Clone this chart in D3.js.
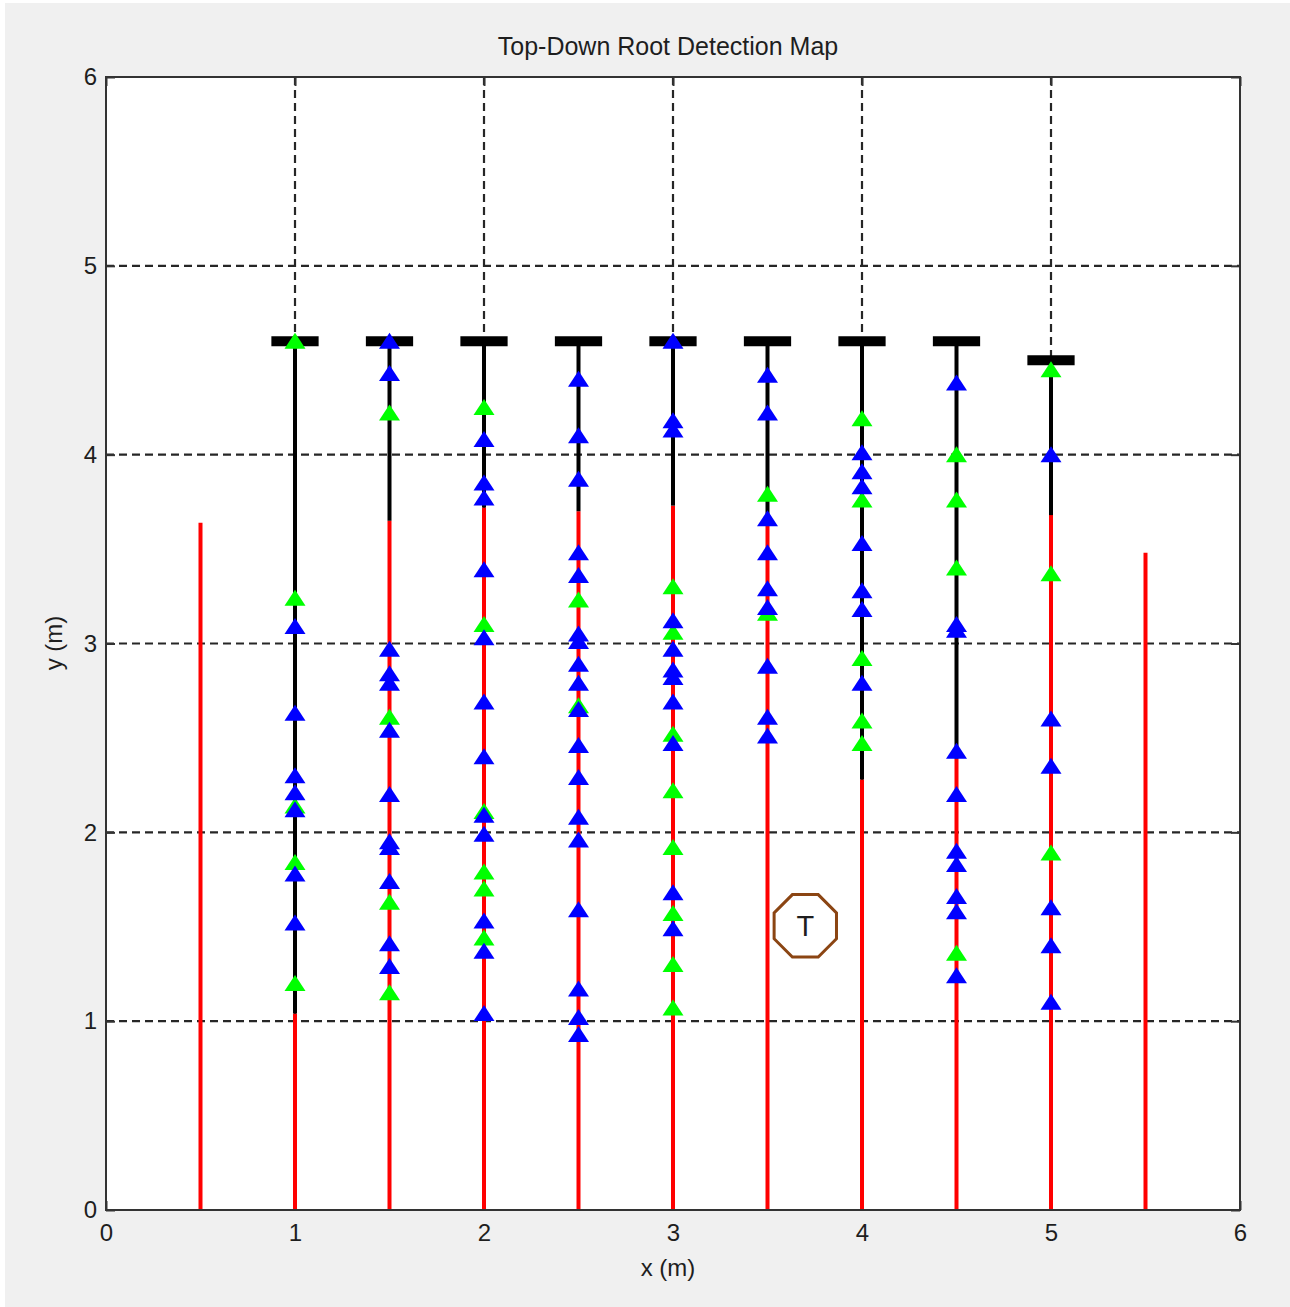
<!DOCTYPE html>
<html>
<head>
<meta charset="utf-8">
<script src="https://cdn.jsdelivr.net/npm/d3@7"></script>
<style>
  html, body { margin: 0; padding: 0; background: #ffffff; }
  text { font-family: "Liberation Sans", Arial, sans-serif; fill: #1e1e1e; }
</style>
</head>
<body>
<div id="container"></div>
<script>
// scan lines (x position in m), top bar height, and where the red (detected) part ends
var lineX   = [1, 1.5, 2, 2.5, 3, 3.5, 4, 4.5, 5];
var barY    = [4.6, 4.6, 4.6, 4.6, 4.6, 4.6, 4.6, 4.6, 4.5];
var redTop  = [1.04, 3.65, 3.72, 3.70, 3.73, 3.63, 2.28, 2.39, 3.68];

// the two outer red lines (no scan bar)
var edgeX   = [0.5, 5.5];
var edgeTop = [3.64, 3.48];

// detections along each scan line (y in m)
var blueY = [
  [3.09, 2.63, 2.30, 2.21, 2.12, 1.78, 1.52],
  [4.60, 4.43, 2.97, 2.84, 2.79, 2.54, 2.20, 1.95, 1.92, 1.74, 1.41, 1.29],
  [4.08, 3.85, 3.77, 3.39, 3.03, 2.69, 2.40, 2.09, 1.99, 1.53, 1.37, 1.04],
  [4.40, 4.10, 3.87, 3.48, 3.36, 3.05, 3.01, 2.89, 2.79, 2.65, 2.46, 2.29, 2.08, 1.96, 1.59, 1.17, 1.02, 0.93],
  [4.60, 4.18, 4.13, 3.12, 2.97, 2.86, 2.82, 2.69, 2.47, 1.68, 1.49],
  [4.42, 4.22, 3.66, 3.48, 3.29, 3.19, 2.88, 2.61, 2.51],
  [4.01, 3.91, 3.83, 3.53, 3.28, 3.18, 2.79],
  [4.38, 3.10, 3.07, 2.43, 2.20, 1.90, 1.83, 1.66, 1.58, 1.24],
  [4.00, 2.60, 2.35, 1.60, 1.40, 1.10]
];
var greenY = [
  [4.60, 3.24, 2.14, 1.84, 1.20],
  [4.22, 2.61, 1.63, 1.15],
  [4.25, 3.10, 2.11, 1.79, 1.70, 1.44],
  [3.23, 2.67],
  [3.30, 3.06, 2.52, 2.22, 1.92, 1.57, 1.30, 1.07],
  [3.79, 3.16],
  [4.19, 3.76, 2.92, 2.59, 2.47],
  [4.00, 3.76, 3.40, 1.36],
  [4.45, 3.37, 1.89]
];

// tree
var treeX = [3.7], treeY = [1.505], treeLabel = ["T"];

var ticks = [0, 1, 2, 3, 4, 5, 6];

var W = 1290, H = 1307;
var margin = {top: 77, left: 106},
    width = 1240 - margin.left,
    height = 1210 - margin.top;

var svg = d3.select("#container")
  .append("svg")
    .attr("width", W)
    .attr("height", H);

svg.append("rect")
  .attr("x", 5).attr("y", 3)
  .attr("width", W - 5).attr("height", H - 3)
  .attr("fill", "#f0f0f0");

var g = svg.append("g")
  .attr("transform", "translate(" + margin.left + "," + margin.top + ")");

var x = d3.scaleLinear().domain([0, 6]).range([0, width]);
var y = d3.scaleLinear().domain([0, 6]).range([height, 0]);

g.append("rect")
  .attr("width", width).attr("height", height)
  .attr("fill", "#fff");

// dashed grid
g.selectAll(".gx").data(ticks.slice(1, -1)).enter().append("line")
  .attr("x1", function(d) { return x(d); }).attr("x2", function(d) { return x(d); })
  .attr("y1", 0).attr("y2", height)
  .attr("stroke", "#262626").attr("stroke-width", 2.2).attr("stroke-dasharray", "8,5");
g.selectAll(".gy").data(ticks.slice(1, -1)).enter().append("line")
  .attr("y1", function(d) { return y(d); }).attr("y2", function(d) { return y(d); })
  .attr("x1", 0).attr("x2", width)
  .attr("stroke", "#262626").attr("stroke-width", 2.2).attr("stroke-dasharray", "8,5");

// axes (ticks pointing inside, MATLAB style)
var xAxis = g.append("g").attr("transform", "translate(0," + height + ")")
  .call(d3.axisBottom(x).tickValues(ticks).tickSize(-9).tickPadding(14).tickFormat(d3.format("d")));
var xTop = g.append("g")
  .call(d3.axisTop(x).tickValues(ticks).tickSize(-9).tickFormat(""));
var yAxis = g.append("g")
  .call(d3.axisLeft(y).tickValues(ticks).tickSize(-9).tickPadding(9).tickFormat(d3.format("d")));
var yRight = g.append("g").attr("transform", "translate(" + width + ",0)")
  .call(d3.axisRight(y).tickValues(ticks).tickSize(-9).tickFormat(""));
[xAxis, xTop, yAxis, yRight].forEach(function(a) {
  a.select(".domain").remove();
  a.selectAll(".tick line").attr("stroke", "#333").attr("stroke-width", 2);
  a.selectAll(".tick text").attr("font-size", 24).attr("fill", "#1e1e1e")
    .style("font-family", "'Liberation Sans', Arial, sans-serif");
});

// outer red lines
g.selectAll(".edge").data(edgeX).enter().append("line")
  .attr("x1", function(d) { return x(d); }).attr("x2", function(d) { return x(d); })
  .attr("y1", y(0)).attr("y2", function(d, i) { return y(edgeTop[i]); })
  .attr("stroke", "#ff0000").attr("stroke-width", 4);

// red part of scan lines
g.selectAll(".red").data(lineX).enter().append("line")
  .attr("x1", function(d) { return x(d); }).attr("x2", function(d) { return x(d); })
  .attr("y1", y(0)).attr("y2", function(d, i) { return y(redTop[i]); })
  .attr("stroke", "#ff0000").attr("stroke-width", 4);

// black part of scan lines
g.selectAll(".blk").data(lineX).enter().append("line")
  .attr("x1", function(d) { return x(d); }).attr("x2", function(d) { return x(d); })
  .attr("y1", function(d, i) { return y(redTop[i]); }).attr("y2", function(d, i) { return y(barY[i]); })
  .attr("stroke", "#000").attr("stroke-width", 4);

// top bars
g.selectAll(".bar").data(lineX).enter().append("line")
  .attr("x1", function(d) { return x(d - 0.125); }).attr("x2", function(d) { return x(d + 0.125); })
  .attr("y1", function(d, i) { return y(barY[i]); }).attr("y2", function(d, i) { return y(barY[i]); })
  .attr("stroke", "#000").attr("stroke-width", 10);

// triangle markers
var tri = "M0,-8.5L10.5,7.5L-10.5,7.5Z";
function markers(arr, color) {
  var pts = [];
  arr.forEach(function(col, i) {
    col.forEach(function(v) { pts.push({x: lineX[i], y: v}); });
  });
  g.append("g").selectAll("path").data(pts).enter().append("path")
    .attr("d", tri)
    .attr("transform", function(d) { return "translate(" + x(d.x) + "," + y(d.y) + ")"; })
    .attr("fill", color);
}
markers(greenY, "#00ff00");
markers(blueY, "#0000ff");

// tree marker (octagon with T)
var ap = x(0.165) - x(0);
var cr = ap / Math.cos(Math.PI / 8);
var oct = d3.range(8).map(function(k) {
  var a = Math.PI / 8 + k * Math.PI / 4;
  return [cr * Math.cos(a), cr * Math.sin(a)];
});
var tree = g.selectAll(".tree").data(treeX).enter().append("g")
  .attr("transform", function(d, i) { return "translate(" + x(d) + "," + y(treeY[i]) + ")"; });
tree.append("path")
  .attr("d", "M" + oct.join("L") + "Z")
  .attr("fill", "none").attr("stroke", "#8b4513").attr("stroke-width", 3);
tree.append("text")
  .attr("text-anchor", "middle").attr("dy", "0.36em")
  .attr("font-size", 29)
  .text(function(d, i) { return treeLabel[i]; });

// box
g.append("rect")
  .attr("width", width).attr("height", height)
  .attr("fill", "none").attr("stroke", "#333").attr("stroke-width", 2);

// title and labels
svg.append("text")
  .attr("x", 668).attr("y", 55)
  .attr("text-anchor", "middle").attr("font-size", 25)
  .text("Top-Down Root Detection Map");
svg.append("text")
  .attr("x", 668).attr("y", 1276)
  .attr("text-anchor", "middle").attr("font-size", 24)
  .text("x (m)");
svg.append("text")
  .attr("transform", "translate(62," + 643 + ") rotate(-90)")
  .attr("text-anchor", "middle").attr("font-size", 24)
  .text("y (m)");
</script>
</body>
</html>
